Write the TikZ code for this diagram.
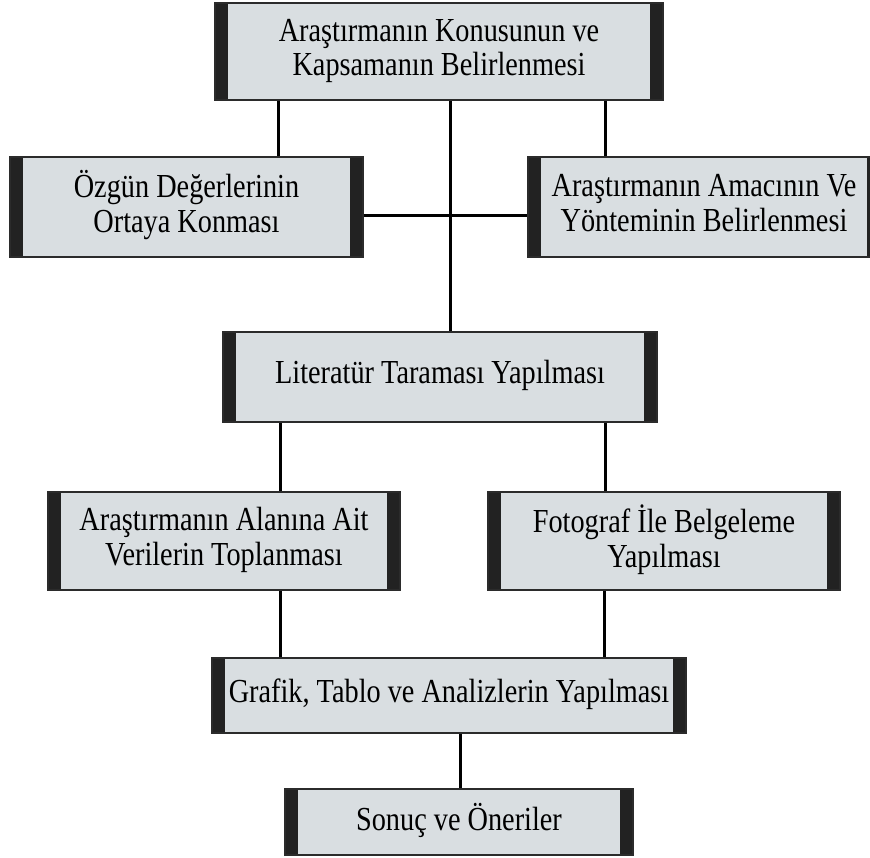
\documentclass[tikz,border=0pt]{standalone}
\usepackage{fontspec}
\setmainfont{Liberation Serif}
\definecolor{boxfill}{HTML}{D9DEE1}
\definecolor{boxedge}{HTML}{2B2B2B}
\definecolor{barcol}{HTML}{222222}
\newcommand{\boxtext}[1]{\scalebox{1.01}[1.2]{\fontsize{28}{29}\selectfont\begin{tabular}{@{}c@{}}#1\end{tabular}}}
\tikzset{
  flowbox/.style={draw=boxedge, line width=1.6pt, fill=boxfill, rectangle, inner sep=0pt,
    align=center,
    path picture={
      \fill[barcol] (path picture bounding box.south west) rectangle ([xshift=13pt]path picture bounding box.north west);
      \fill[barcol] ([xshift=-13pt]path picture bounding box.south east) rectangle (path picture bounding box.north east);
    }},
  conn/.style={line width=3pt, draw=black}
}
\begin{document}
\begin{tikzpicture}[x=1pt,y=-1pt]
\useasboundingbox (0,0) rectangle (870,858);
\fill[white] (0,0) rectangle (870,858);
\clip (0,0) rectangle (870,858);
\node[flowbox, minimum width=448pt, minimum height=97pt] (top) at (439,51.5) {\boxtext{Araştırmanın Konusunun ve\\Kapsamanın Belirlenmesi}};
\node[flowbox, minimum width=353pt, minimum height=100pt] (left) at (186.5,207) {\boxtext{Özgün Değerlerinin\\Ortaya Konması}};
\node[flowbox, minimum width=352pt, minimum height=100pt] (right) at (704,207) {\boxtext{Araştırmanın Amacının Ve\\Yönteminin Belirlenmesi}};
\node[flowbox, minimum width=434pt, minimum height=90pt] (lit) at (440,377) {\boxtext{Literatür Taraması Yapılması}};
\node[flowbox, minimum width=352pt, minimum height=98pt] (alan) at (224,541) {\boxtext{Araştırmanın Alanına Ait\\Verilerin Toplanması}};
\node[flowbox, minimum width=352pt, minimum height=98pt] (foto) at (664,541) {\boxtext{Fotograf İle Belgeleme\\Yapılması}};
\node[flowbox, minimum width=474pt, minimum height=75pt] (graf) at (449,695.5) {\boxtext{Grafik, Tablo ve Analizlerin Yapılması}};
\node[flowbox, minimum width=348pt, minimum height=66pt] (son) at (459,822) {\boxtext{Sonuç ve Öneriler}};
\coordinate (xa) at (278,0);
\coordinate (xb) at (605,0);
\coordinate (xc) at (450,0);
\coordinate (xd) at (280,0);
\coordinate (xe) at (604,0);
\coordinate (xf) at (460,0);
\coordinate (ym) at (0,216);
\draw[conn] (top.south -| xa) -- (left.north -| xa);
\draw[conn] (top.south -| xb) -- (right.north -| xb);
\draw[conn] (top.south -| xc) -- (lit.north -| xc);
\draw[conn] (left.east |- ym) -- (right.west |- ym);
\draw[conn] (lit.south -| xd) -- (alan.north -| xd);
\draw[conn] (lit.south -| xb) -- (foto.north -| xb);
\draw[conn] (alan.south -| xd) -- (graf.north -| xd);
\draw[conn] (foto.south -| xe) -- (graf.north -| xe);
\draw[conn] (graf.south -| xf) -- (son.north -| xf);
\end{tikzpicture}
\end{document}
